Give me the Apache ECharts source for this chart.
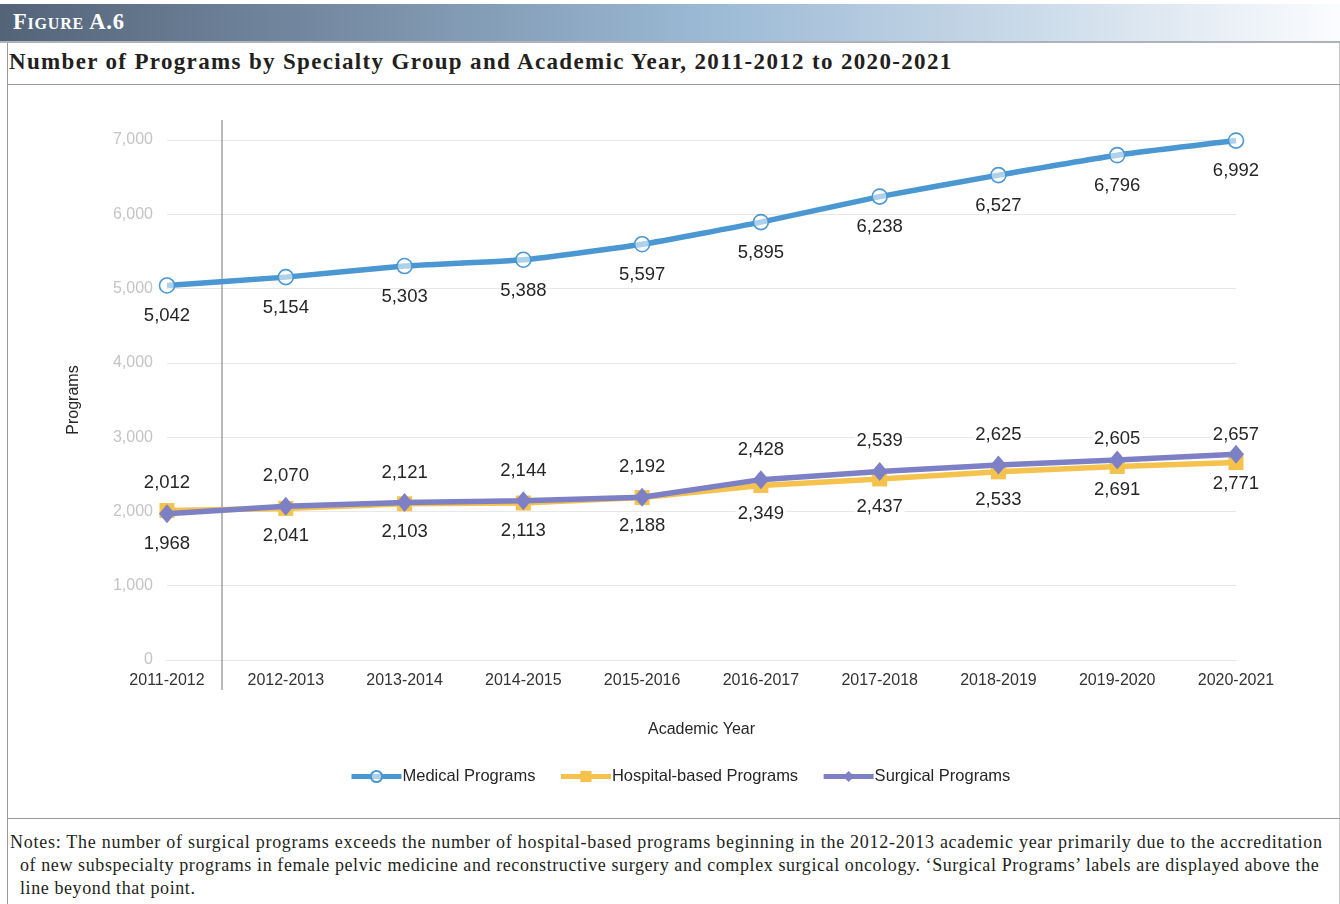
<!DOCTYPE html>
<html>
<head>
<meta charset="utf-8">
<script src="https://cdn.jsdelivr.net/npm/echarts@6/dist/echarts.min.js"></script>
<style>
  html, body { margin:0; padding:0; background:#fff; }
  body { width:1340px; height:904px; position:relative; overflow:hidden; font-family:"Liberation Serif", "DejaVu Serif", serif; color:#231f20; }
  #hdr { position:absolute; left:0; top:4px; width:1340px; height:37px;
    background:linear-gradient(to right, #536479 0%, #7a90a8 28%, #9ab8d4 52%, #cddcea 78%, #fbfcfe 100%);
    border-bottom:2px solid #aeb2b9; }
  #hdr span { position:absolute; left:13px; top:5px; color:#fff; font-weight:bold; font-size:22.5px; font-variant:small-caps; letter-spacing:0.8px; }
  #frameL { position:absolute; left:7px; top:43px; width:1px; height:861px; background:#9b9b9b; }
  #frameR { position:absolute; left:1339px; top:43px; width:1px; height:861px; background:#c8c8c8; }
  #title { position:absolute; left:9px; top:49px; font-weight:bold; font-size:23px; letter-spacing:1.34px; white-space:nowrap; }
  #line1 { position:absolute; left:7px; top:84px; width:1333px; height:1px; background:#9b9b9b; }
  #line2 { position:absolute; left:7px; top:818px; width:1333px; height:1px; background:#9b9b9b; }
  #chart { position:absolute; left:0; top:85px; width:1340px; height:733px; }
  #notes { position:absolute; left:10px; top:831px; width:1320px; font-size:18px; line-height:23px; white-space:nowrap; }
  #notes .l1 { letter-spacing:0.73px; }
  #notes .ind { padding-left:10px; letter-spacing:0.59px; }
</style>
</head>
<body>
<div id="hdr"><span>Figure A.6</span></div>
<div id="frameL"></div>
<div id="frameR"></div>
<div id="title">Number of Programs by Specialty Group and Academic Year, 2011-2012 to 2020-2021</div>
<div id="line1"></div>
<div id="chart"></div>
<div id="line2"></div>
<div id="notes"><span class="l1">Notes: The number of surgical programs exceeds the number of hospital-based programs beginning in the 2012-2013 academic year primarily due to the accreditation</span><br><span class="ind">of new subspecialty programs in female pelvic medicine and reconstructive surgery and complex surgical oncology. ‘Surgical Programs’ labels are displayed above the</span><br><span class="ind">line beyond that point.</span></div>
<script>
// ---- data ----
const years = ['2011-2012','2012-2013','2013-2014','2014-2015','2015-2016','2016-2017','2017-2018','2018-2019','2019-2020','2020-2021'];
const medical = [5042, 5154, 5303, 5388, 5597, 5895, 6238, 6527, 6796, 6992];
const hospital = [2012, 2041, 2103, 2113, 2188, 2349, 2437, 2533, 2605, 2657];
const surgical = [1968, 2070, 2121, 2144, 2192, 2428, 2539, 2625, 2691, 2771];
const yTicks = [0, 1000, 2000, 3000, 4000, 5000, 6000, 7000];

// label side per point (style, as in the original figure)
const hospitalSide = ['top','bottom','bottom','bottom','bottom','bottom','bottom','bottom','top','top'];
const surgicalSide = ['bottom','top','top','top','top','top','top','top','bottom','bottom'];

const fmt = v => v.toLocaleString('en-US');
const labelBase = { show:true, fontFamily:'Liberation Sans, Arial, sans-serif', fontSize:18.5, color:'#262626',
  backgroundColor:'#fff', padding:[1,2], formatter: p => fmt(p.value) };

function items(vals, sides, dist) {
  return vals.map((v,i) => ({ value:v, label:{ position:sides[i], distance:dist } }));
}

const chart = echarts.init(document.getElementById('chart'), null, { renderer:'canvas' });
chart.setOption({
  animation:false,
  textStyle:{ fontFamily:'Liberation Sans, Arial, sans-serif' },
  grid:{ left:167, right:104, top:55, bottom:158, containLabel:false },
  legend:{
    left:344, top:678, itemWidth:50, itemHeight:14, itemGap:23,
    lineStyle:{ width:5 },
    textStyle:{ fontSize:16.5, color:'#262626', padding:[0,0,0,-4] },
    data:['Medical Programs','Hospital-based Programs','Surgical Programs']
  },
  xAxis:{
    type:'category', data:years, boundaryGap:false,
    name:'Academic Year', nameLocation:'middle', nameGap:62,
    nameTextStyle:{ fontSize:16, color:'#262626' },
    axisLine:{ show:true, lineStyle:{ color:'#e3e3e3' } },
    axisTick:{ show:false },
    axisLabel:{ fontSize:16, color:'#333', margin:13 }
  },
  yAxis:{
    type:'value', min:yTicks[0], max:yTicks[yTicks.length-1], interval:1000,
    name:'Programs', nameLocation:'middle', nameGap:85, nameRotate:90,
    nameTextStyle:{ fontSize:16, color:'#262626' },
    axisLine:{ show:false }, axisTick:{ show:false },
    axisLabel:{ fontSize:16, color:'#c4c4c4', margin:14, formatter: v => fmt(v) },
    splitLine:{ lineStyle:{ color:'#e8e8e8', width:1.2 } }
  },
  graphic:[{ type:'line', shape:{ x1:222, y1:35, x2:222, y2:605 }, style:{ stroke:'#8c8c8c', lineWidth:1.2 }, z:1 }],
  series:[
    { name:'Medical Programs', type:'line', data:medical, smooth:0.15,
      symbol:'circle', symbolSize:15,
      lineStyle:{ color:'#4a97d2', width:5.5 },
      itemStyle:{ color:'rgba(255,255,255,0.55)', borderColor:'#4a97d2', borderWidth:1.6 },
      label:Object.assign({}, labelBase, { position:'bottom', distance:12, backgroundColor:'transparent' }), z:3 },
    { name:'Hospital-based Programs', type:'line', data:items(hospital, hospitalSide, 10),
      symbol:'rect', symbolSize:15,
      lineStyle:{ color:'#f4c24d', width:5.5 },
      itemStyle:{ color:'#f4c24d' },
      label:labelBase, z:4 },
    { name:'Surgical Programs', type:'line', data:items(surgical, surgicalSide, 10),
      symbol:'diamond', symbolSize:[16,19],
      lineStyle:{ color:'#7d80c5', width:5.5 },
      itemStyle:{ color:'#7d80c5' },
      label:labelBase, z:5 }
  ]
});
</script>
</body>
</html>
